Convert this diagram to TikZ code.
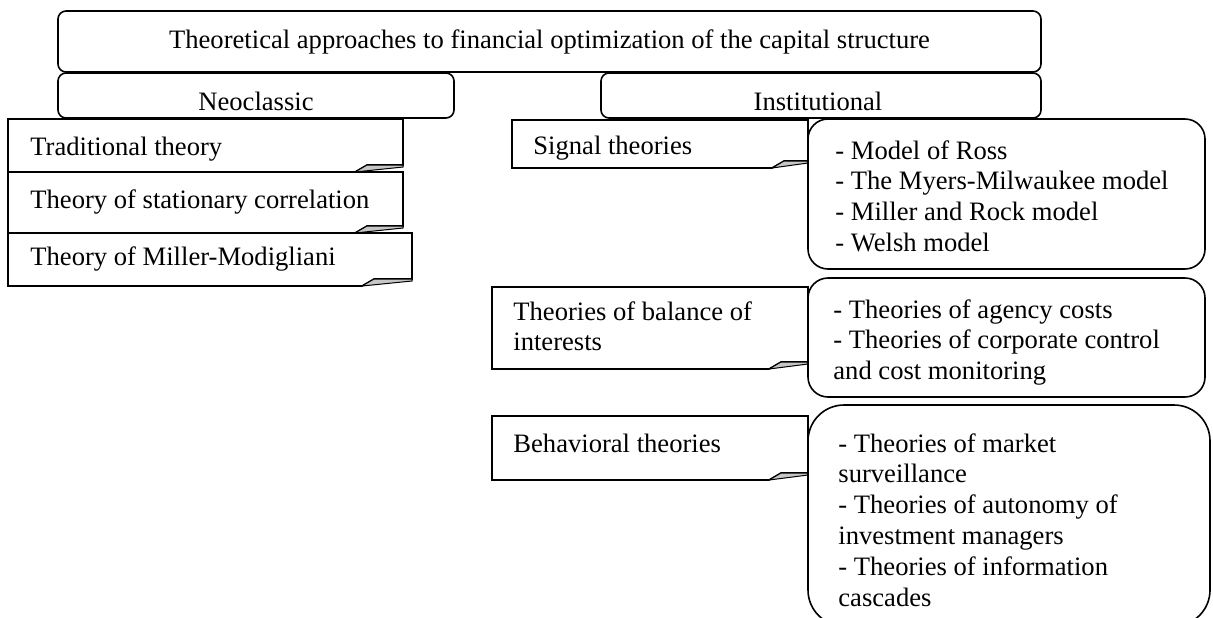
\documentclass[tikz,border=0pt]{standalone}
\usepackage{fontspec}
\setmainfont{Liberation Serif}
\usepackage{tikz}

\tikzset{
  txt/.style = {inner sep=0pt, font=\fontsize{13.3pt}{15.4pt}\selectfont},
  lst/.style = {txt, anchor=base west},
  headbox/.style = {draw, line width=0.8pt, rounded corners=4pt, fill=white},
  listbox/.style = {draw, line width=0.8pt, rounded corners=10pt, fill=white},
  callout/.style = {draw, line width=0.8pt, fill=white},
  fold/.style = {draw, line width=0.5pt, fill=gray!45}
}

\begin{document}
\begin{tikzpicture}[x=0.5pt, y=-0.5pt]
\useasboundingbox (0,0) rectangle (1213,617);
\clip (0,0) rectangle (1213,617);

% head and the two branches
\draw[headbox] (58,11) rectangle (1041,72);
\draw[headbox] (58,73) rectangle (454,118);
\draw[headbox] (601,73) rectangle (1041,118);
\node[txt, anchor=base] (title) at (549.5,48) {Theoretical approaches to financial optimization of the capital structure};
\node[txt, anchor=base] (neo) at (256,110) {Neoclassic};
\node[txt, anchor=base] (inst) at (818,110) {Institutional};

% neoclassic theories
\draw[callout] (8,172) -- (8,119) -- (403,119) -- (403,165) -- (367,165) -- (355,172) -- cycle;
\draw[fold] (355,172) -- (367,165) -- (403,165) -- (403,167) -- cycle;
\draw[callout] (8,233) -- (8,172) -- (403,172) -- (403,226) -- (367,226) -- (355,233) -- cycle;
\draw[fold] (355,233) -- (367,226) -- (403,226) -- (403,228) -- cycle;
\draw[callout] (8,286) -- (8,233) -- (412,233) -- (412,279) -- (374,279) -- (362,286) -- cycle;
\draw[fold] (362,286) -- (374,279) -- (412,279) -- (412,281) -- cycle;
\node[txt, anchor=base west] (trad) at (30,155) {Traditional theory};
\node[txt, anchor=base west] (stat) at (30,208) {Theory of stationary correlation};
\node[txt, anchor=base west] (mm) at (30,265) {Theory of Miller-Modigliani};

% institutional theories
\draw[callout] (512,168) -- (512,120) -- (808,120) -- (808,161) -- (784,161) -- (772,168) -- cycle;
\draw[fold] (772,168) -- (784,161) -- (808,161) -- (808,163) -- cycle;
\draw[callout] (492,369) -- (492,287) -- (808,287) -- (808,362) -- (781,362) -- (769,369) -- cycle;
\draw[fold] (769,369) -- (781,362) -- (808,362) -- (808,364) -- cycle;
\draw[callout] (492,480) -- (492,416) -- (808,416) -- (808,473) -- (781,473) -- (769,480) -- cycle;
\draw[fold] (769,480) -- (781,473) -- (808,473) -- (808,475) -- cycle;
\node[txt, anchor=base west] (signal) at (533,154) {Signal theories};
\node[lst] (balance) at (513,320) {\begin{tabular}[t]{@{}l@{}}Theories of balance of\\interests\end{tabular}};
\node[txt, anchor=base west] (behav) at (513,452) {Behavioral theories};

% models
\draw[listbox] (808,119) rectangle (1205,269);
\draw[listbox] (808,278) rectangle (1205,397);
\draw[listbox, rounded corners=18pt] (808,405) rectangle (1210,626);
\node[lst] (ross) at (835,159) {\begin{tabular}[t]{@{}l@{}}- Model of Ross\\- The Myers-Milwaukee model\\- Miller and Rock model\\- Welsh model\end{tabular}};
\node[lst] (agency) at (833,318) {\begin{tabular}[t]{@{}l@{}}- Theories of agency costs\\- Theories of corporate control\\and cost monitoring\end{tabular}};
\node[lst] (market) at (838,452) {\begin{tabular}[t]{@{}l@{}}- Theories of market\\surveillance\\- Theories of autonomy of\\investment managers\\- Theories of information\\cascades\end{tabular}};
\end{tikzpicture}
\end{document}
